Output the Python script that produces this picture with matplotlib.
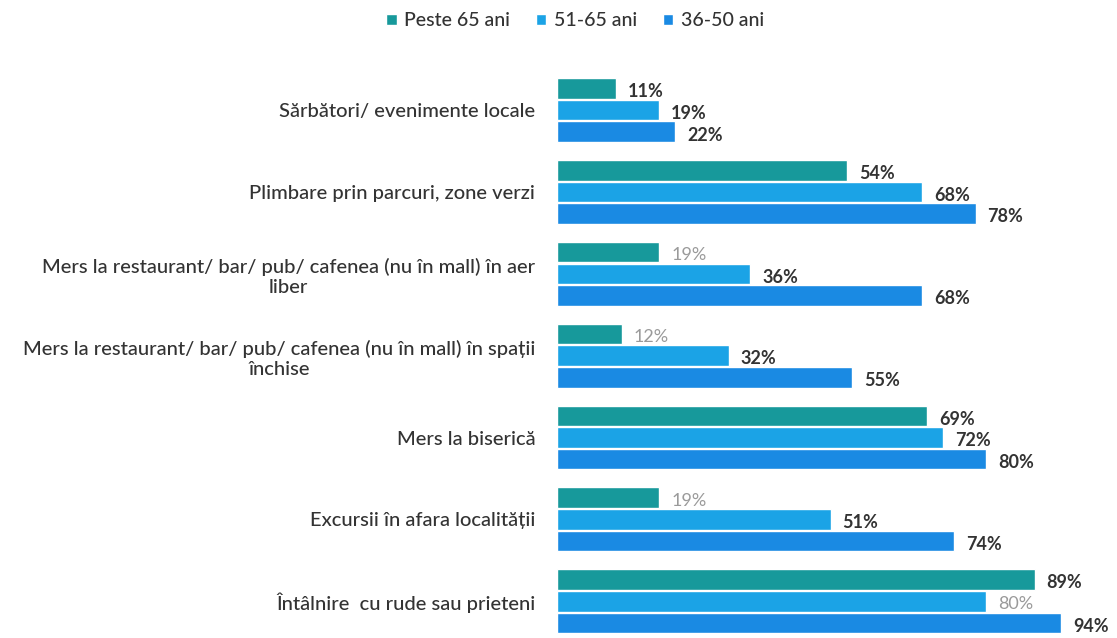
import matplotlib.pyplot as plt
import numpy as np

plt.rcParams['font.family'] = ['Lato', 'DejaVu Sans']

# Date: activități pe grupe de vârstă (%)
CATEGORII = [
    'Sărbători/ evenimente locale',
    'Plimbare prin parcuri, zone verzi',
    'Mers la restaurant/ bar/ pub/ cafenea (nu în mall) în aer\nliber',
    'Mers la restaurant/ bar/ pub/ cafenea (nu în mall) în spații\nînchise',
    'Mers la biserică',
    'Excursii în afara localității',
    'Întâlnire  cu rude sau prieteni',
]
GRUPE = ['Peste 65 ani', '51-65 ani', '36-50 ani']
PESTE_65 = [11, 54, 19, 12, 69, 19, 89]
ANI_51_65 = [19, 68, 36, 32, 72, 51, 80]
ANI_36_50 = [22, 78, 68, 55, 80, 74, 94]

# etichete afișate mai estompat (gri deschis)
ESTOMPAT = {(0, 2), (0, 3), (0, 5), (1, 6)}

CULORI = ['#17999b', '#1ba3e6', '#1a8ae3']
TEXT = '#333333'

fig = plt.figure(figsize=(11.17, 6.38), dpi=100)
ax = fig.add_axes([0.499, 0.005, 0.48, 0.875])

serii = [PESTE_65, ANI_51_65, ANI_36_50]
n = len(CATEGORII)
pas_grup = 3.78
pas_bara = 1.0
y0 = np.arange(n) * pas_grup

for j, (serie, culoare, nume) in enumerate(zip(serii, CULORI, GRUPE)):
    ypos = y0 + j * pas_bara
    ax.barh(ypos, serie, height=0.95, color=culoare, edgecolor='white',
            linewidth=1.0, label=nume)
    for i, (y, v) in enumerate(zip(ypos, serie)):
        muted = (j, i) in ESTOMPAT
        ax.text(v + 2.2, y + 0.15, f'{v}%', va='center', ha='left',
                fontsize=13, fontweight='normal' if muted else 'bold',
                color='#9a9a9a' if muted else TEXT)

ax.set_yticks(y0 + pas_bara)
ax.set_yticklabels(CATEGORII, fontsize=14.5, color=TEXT, ha='right',
                   multialignment='center', fontweight='medium')
ax.tick_params(axis='y', length=0, pad=16)
ax.set_xticks([])
ax.set_xlim(0, 100)
ax.set_ylim(y0[-1] + 2 * pas_bara + 0.55, -0.55)
for s in ax.spines.values():
    s.set_visible(False)

fig.legend(loc='upper center', bbox_to_anchor=(0.515, 1.008), ncol=3, frameon=False,
           handlelength=0.55, handleheight=0.55, handletextpad=0.4,
           columnspacing=1.3, labelcolor=TEXT, prop={'weight': 'medium', 'size': 14})

fig.savefig('out.png', dpi=100)
